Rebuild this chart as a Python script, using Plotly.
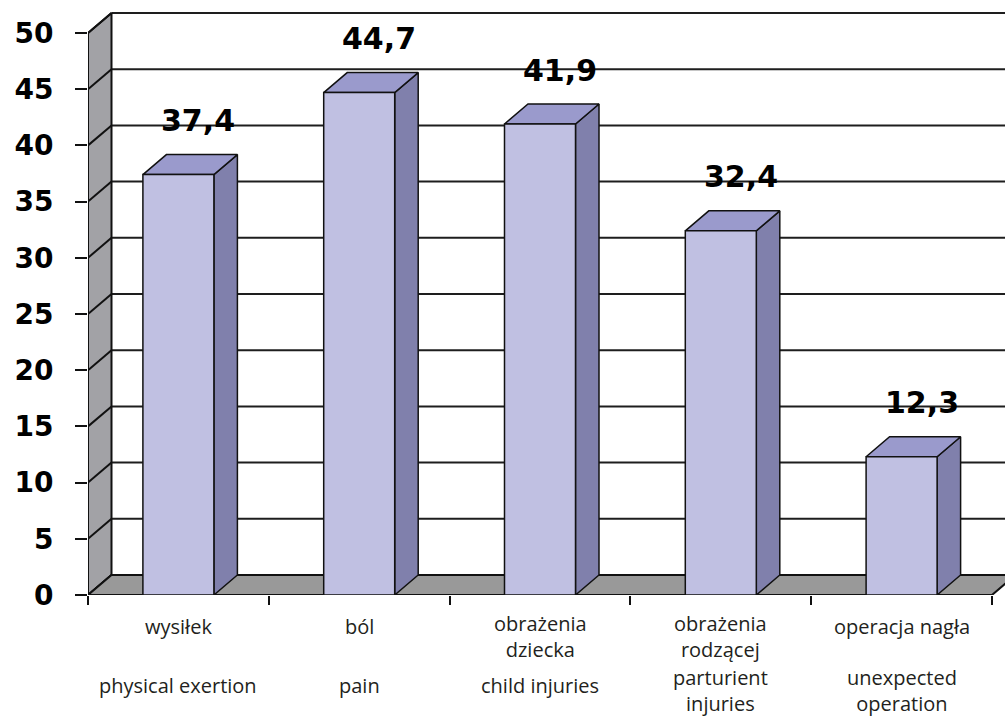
import plotly.graph_objects as go

# ---- data ----
categories_pl = ["wysiłek", "ból", "obrażenia<br>dziecka", "obrażenia<br>rodzącej", "operacja nagła"]
categories_en = ["physical exertion", "pain", "child injuries", "parturient<br>injuries", "unexpected<br>operation"]
values = [37.4, 44.7, 41.9, 32.4, 12.3]
value_labels = ["37,4", "44,7", "41,9", "32,4", "12,3"]
y_ticks = list(range(0, 51, 5))

# ---- geometry of the pseudo-3D frame (pixels -> axis units) ----
W, H = 1005, 719
M_L, M_B = 88, 124
BASE_PX = H - M_B               # pixel row of the value 0 (plot height, top margin 0)
PX_PER_CAT = 180.8
PX_PER_UNIT = 11.24
DX = 23.5 / PX_PER_CAT          # depth offset along x
DY = 20.0 / PX_PER_UNIT         # depth offset along y
BAR_W = 71.0 / PX_PER_CAT
X_MAX = (W - M_L) / PX_PER_CAT
Y_MAX = BASE_PX / PX_PER_UNIT
N = len(values)
Y_TOP = y_ticks[-1]

FRONT = "#c0c0e2"
TOP = "#9a9acc"
SIDE = "#8080ac"
WALL = "#a2a2a6"
FLOOR = "#999999"
EDGE = "#111111"

fig = go.Figure()


def poly(xs, ys, fill, width=1.5):
    fig.add_trace(go.Scatter(
        x=xs + [xs[0]], y=ys + [ys[0]], mode="lines", fill="toself",
        fillcolor=fill, line=dict(color=EDGE, width=width),
        hoverinfo="skip", showlegend=False))


def lines(xs, ys, width=2, color=EDGE):
    fig.add_trace(go.Scatter(
        x=xs, y=ys, mode="lines", line=dict(color=color, width=width),
        hoverinfo="skip", showlegend=False))


def paper_row(py):
    """Pixel row (from the top of the page) as a paper y coordinate."""
    return (BASE_PX - py) / BASE_PX


# back-wall gridlines
gx, gy = [], []
for t in y_ticks:
    gx += [DX, X_MAX + 1, None]
    gy += [t + DY, t + DY, None]
lines(gx, gy, width=2, color="#1e1e1e")

# left side wall
poly([0, 0, DX, DX], [0, Y_TOP, Y_TOP + DY, DY], WALL, width=2)
sx, sy = [], []
for t in y_ticks:
    sx += [0, DX, None]
    sy += [t, t + DY, None]
lines(sx, sy, width=2)

# floor
poly([0, N, N + DX, X_MAX + 1, DX], [0, 0, DY, DY, DY], FLOOR, width=2)

# bars: side face, top face, front face
for i, v in enumerate(values):
    c = i + 0.5
    x0, x1 = c - BAR_W / 2, c + BAR_W / 2
    poly([x1, x1 + DX, x1 + DX, x1], [0, DY, v + DY, v], SIDE)
    poly([x0, x0 + DX, x1 + DX, x1], [v, v + DY, v + DY, v], TOP)
    poly([x0, x1, x1, x0], [0, 0, v, v], FRONT)

# value labels above bars
for i, (v, lab) in enumerate(zip(values, value_labels)):
    fig.add_annotation(
        x=i + 0.5 + 20 / PX_PER_CAT, y=v + 4.8, text=f"<b>{lab}</b>",
        showarrow=False,
        font=dict(family="DejaVu Sans", size=30, color="#000000"),
        xanchor="center", yanchor="middle")

# category labels (Polish / English)
label_font = dict(family="Open Sans", size=20, color="#231f20")


def label(x, text, py, anchor):
    fig.add_annotation(
        x=x, xref="x", y=paper_row(py), yref="paper", text=text,
        showarrow=False, font=label_font, xanchor="center",
        yanchor=anchor, align="center")


for i, (pl, en) in enumerate(zip(categories_pl, categories_en)):
    if "<br>" in pl:
        label(i + 0.5, pl, 608, "top")
    else:
        label(i + 0.5, pl, 626, "middle")
    if "<br>" in en:
        label(i + 0.5, en, 719, "bottom")
    else:
        label(i + 0.5, en, 685, "middle")

fig.update_layout(
    width=W, height=H,
    margin=dict(l=M_L, r=0, t=0, b=M_B, pad=0),
    paper_bgcolor="white", plot_bgcolor="white",
    xaxis=dict(range=[0, X_MAX], showgrid=False, zeroline=False, showline=False,
               tickvals=list(range(N + 1)), ticktext=[""] * (N + 1),
               ticks="outside", ticklen=9, tickwidth=2, tickcolor=EDGE,
               fixedrange=True),
    yaxis=dict(range=[0, Y_MAX], showgrid=False, zeroline=False, showline=False,
               tickvals=y_ticks, ticktext=[f"<b>{t}</b>" for t in y_ticks],
               ticks="outside", ticklen=12, tickwidth=2, tickcolor=EDGE,
               ticklabelstandoff=16,
               tickfont=dict(family="DejaVu Sans", size=28, color="#000000"),
               fixedrange=True),
)

fig.write_html("out.html")
